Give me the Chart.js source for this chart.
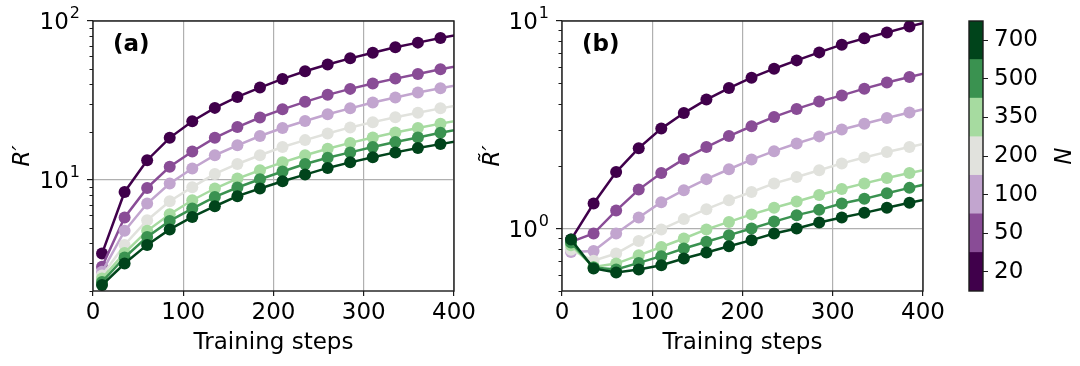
<!DOCTYPE html>
<html>
<head>
<meta charset="utf-8">
<script src="https://cdn.jsdelivr.net/npm/chart.js@4"></script>
<style>
  body { margin: 0; background: #fff; }
  #wrap { position: relative; width: 1080px; height: 366px; }
  canvas { position: absolute; left: 0; top: 0; }
</style>
</head>
<body>
<div id="wrap">
  <canvas id="chartA" width="1080" height="366"></canvas>
  <canvas id="chartB" width="1080" height="366"></canvas>
  <canvas id="cbar" width="1080" height="366"></canvas>
</div>
<script>
// training steps (last one sits just outside the axis, line runs to the edge)
const steps = [10, 35, 60, 85, 110, 135, 160, 185, 210, 235, 260, 285, 310, 335, 360, 385, 410];
const nLabels = ['20', '50', '100', '200', '350', '500', '700'];
const colors = ['#40004b', '#894c96', '#c2a5cf', '#e1e2dd', '#a6dba0', '#3a9250', '#00441b'];

// panel (a): R'
const a20  = [3.44, 8.4, 13.3, 18.4, 23.4, 28.4, 33.3, 38.1, 43.2, 48.3, 53.2, 58.2, 63.2, 68.4, 73.1, 78.2, 83.2];
const a50  = [2.84, 5.8, 8.9, 12.1, 15.1, 18.4, 21.5, 24.7, 27.8, 31.0, 34.3, 37.4, 40.4, 43.4, 46.4, 49.7, 52.8];
const a100 = [2.64, 4.78, 7.1, 9.5, 11.8, 14.3, 16.5, 18.9, 21.2, 23.5, 25.9, 28.2, 30.7, 33.0, 35.5, 37.7, 40.1];
const a200 = [2.5, 3.9, 5.58, 7.35, 9.0, 10.9, 12.6, 14.3, 16.1, 17.8, 19.6, 21.4, 23.1, 24.8, 26.5, 28.2, 29.9];
const a350 = [2.4, 3.47, 4.78, 6.08, 7.45, 8.83, 10.2, 11.5, 12.9, 14.3, 15.7, 17.1, 18.5, 19.9, 21.2, 22.6, 24.0];
const a500 = [2.28, 3.25, 4.38, 5.52, 6.6, 7.82, 8.96, 10.1, 11.3, 12.6, 13.8, 14.9, 16.1, 17.3, 18.5, 19.8, 21.0];
const a700 = [2.18, 2.98, 3.9, 4.88, 5.85, 6.83, 7.9, 8.83, 9.8, 10.8, 11.9, 12.9, 13.9, 14.9, 15.9, 16.8, 17.8];

// panel (b): R~'
const b20  = [0.885, 1.32, 1.87, 2.44, 3.03, 3.6, 4.18, 4.75, 5.33, 5.89, 6.46, 7.06, 7.69, 8.25, 8.81, 9.42, 10.0];
const b50  = [0.862, 0.946, 1.22, 1.54, 1.85, 2.16, 2.47, 2.79, 3.11, 3.45, 3.77, 4.09, 4.38, 4.72, 5.05, 5.37, 5.7];
const b100 = [0.77, 0.78, 0.946, 1.13, 1.34, 1.53, 1.73, 1.93, 2.15, 2.36, 2.57, 2.78, 3.0, 3.2, 3.41, 3.62, 3.84];
const b200 = [0.79, 0.70, 0.758, 0.871, 0.99, 1.11, 1.24, 1.37, 1.50, 1.65, 1.77, 1.91, 2.06, 2.2, 2.34, 2.47, 2.61];
const b350 = [0.83, 0.653, 0.678, 0.743, 0.815, 0.895, 0.99, 1.076, 1.17, 1.26, 1.35, 1.45, 1.55, 1.65, 1.75, 1.85, 1.95];
const b500 = [0.857, 0.649, 0.635, 0.683, 0.736, 0.801, 0.863, 0.929, 1.0, 1.08, 1.16, 1.23, 1.32, 1.39, 1.48, 1.57, 1.66];
const b700 = [0.885, 0.642, 0.614, 0.635, 0.666, 0.717, 0.766, 0.822, 0.879, 0.946, 1.0, 1.07, 1.13, 1.19, 1.26, 1.33, 1.4];

const seriesA = [a20, a50, a100, a200, a350, a500, a700];
const seriesB = [b20, b50, b100, b200, b350, b500, b700];

const xTicks = [0, 100, 200, 300, 400];
const yTicksA = [2, 3, 4, 5, 6, 7, 8, 9, 10, 20, 30, 40, 50, 60, 70, 80, 90, 100];
const yTicksB = [0.5, 0.6, 0.7, 0.8, 0.9, 1, 2, 3, 4, 5, 6, 7, 8, 9, 10];

const FONT = "'DejaVu Sans', sans-serif";
Chart.defaults.font.family = FONT;
Chart.defaults.font.size = 23;
Chart.defaults.color = '#000';

function isDecade(v) {
    const l = Math.log10(v);
    return Math.abs(l - Math.round(l)) < 1e-9;
}

// box round the plot area
const framePlugin = {
    id: 'frame',
    afterDatasetsDraw(chart) {
        const a = chart.chartArea;
        const ctx = chart.ctx;
        ctx.save();
        ctx.strokeStyle = '#1a1a1a';
        ctx.lineWidth = 1.4;
        ctx.strokeRect(a.left, a.top, a.right - a.left, a.bottom - a.top);
        ctx.restore();
    }
};

// short minor ticks and 10^n labels on the log axis
const logAxisPlugin = {
    id: 'logAxis',
    afterDraw(chart) {
        const y = chart.scales.y;
        if (!y || y.type !== 'logarithmic') return;
        const ctx = chart.ctx;
        const left = chart.chartArea.left;
        ctx.save();
        ctx.strokeStyle = '#1a1a1a';
        ctx.fillStyle = '#000';
        ctx.lineWidth = 1;
        y.ticks.forEach(t => {
            const py = y.getPixelForValue(t.value);
            if (!isDecade(t.value)) {
                const p = Math.round(py) + 0.5;
                ctx.beginPath();
                ctx.moveTo(left, p);
                ctx.lineTo(left - 3.5, p);
                ctx.stroke();
                return;
            }
            const exp = String(Math.round(Math.log10(t.value)));
            ctx.textAlign = 'right';
            ctx.textBaseline = 'middle';
            ctx.font = '16px ' + FONT;
            const expW = ctx.measureText(exp).width;
            ctx.fillText(exp, left - 13, py - 7);
            ctx.font = '23px ' + FONT;
            ctx.fillText('10', left - 13 - expW - 1, py + 2.5);
        });
        ctx.restore();
    }
};

const panelLabelPlugin = {
    id: 'panelLabel',
    afterDatasetsDraw(chart, args, opts) {
        if (!opts.text) return;
        const ctx = chart.ctx;
        ctx.save();
        ctx.font = 'bold 23px ' + FONT;
        ctx.fillStyle = '#000';
        ctx.textBaseline = 'middle';
        ctx.fillText(opts.text, chart.chartArea.left + 20, chart.chartArea.top + 24);
        ctx.restore();
    }
};

function makePanel(canvasId, series, yMin, yMax, yTicks, yTitle, label, pad, yAxisWidth) {
    const datasets = series.map((vals, i) => ({
        label: 'N = ' + nLabels[i],
        data: steps.map((s, j) => ({ x: s, y: vals[j] })),
        borderColor: colors[i],
        backgroundColor: colors[i],
        borderWidth: 2.5,
        pointRadius: 6,
        pointHoverRadius: 6,
        pointBorderWidth: 0,
        order: series.length - 1 - i
    }));

    return new Chart(document.getElementById(canvasId), {
        type: 'line',
        data: { datasets: datasets },
        options: {
            responsive: false,
            animation: false,
            events: [],
            layout: { padding: pad },
            plugins: {
                legend: { display: false },
                tooltip: { enabled: false },
                panelLabel: { text: label }
            },
            scales: {
                x: {
                    type: 'linear',
                    min: 0,
                    max: 400,
                    afterBuildTicks: s => { s.ticks = xTicks.map(v => ({ value: v })); },
                    afterFit: s => { s.height = 70; },
                    ticks: { padding: 3, maxRotation: 0 },
                    grid: { color: '#b0b0b0', lineWidth: 1.2, tickColor: '#1a1a1a', tickLength: 5 },
                    border: { display: false },
                    title: { display: true, text: 'Training steps', padding: { top: 2, bottom: 4 } }
                },
                y: {
                    type: 'logarithmic',
                    min: yMin,
                    max: yMax,
                    afterBuildTicks: s => { s.ticks = yTicks.map(v => ({ value: v })); },
                    afterFit: s => { s.width = yAxisWidth; },
                    ticks: { padding: 6, autoSkip: false, callback: () => '' },
                    grid: {
                        color: c => isDecade(c.tick.value) ? '#b0b0b0' : 'rgba(0,0,0,0)',
                        tickColor: c => isDecade(c.tick.value) ? '#1a1a1a' : 'rgba(0,0,0,0)',
                        lineWidth: 1.2,
                        tickLength: 6
                    },
                    border: { display: false },
                    title: { display: true, text: yTitle, font: { style: 'italic' }, padding: { top: 3, bottom: 4 } }
                }
            }
        },
        plugins: [framePlugin, logAxisPlugin, panelLabelPlugin]
    });
}

makePanel('chartA', seriesA, 2, 100, yTicksA, 'R\u2032', '(a)',
    { left: 6, top: 21, right: 1080 - 454, bottom: 5 }, 87);
makePanel('chartB', seriesB, 0.5, 10, yTicksB, 'R\u0303\u2032', '(b)',
    { left: 476, top: 21, right: 1080 - 923, bottom: 5 }, 86);

// colour bar: one stacked column, one block per N
new Chart(document.getElementById('cbar'), {
    type: 'bar',
    data: {
        labels: ['N'],
        datasets: nLabels.map((n, i) => ({
            label: n,
            data: [1],
            backgroundColor: colors[i],
            borderWidth: 0,
            barPercentage: 1,
            categoryPercentage: 1
        }))
    },
    options: {
        responsive: false,
        animation: false,
        events: [],
        layout: { padding: { left: 969, top: 21, right: 2, bottom: 75 } },
        plugins: { legend: { display: false }, tooltip: { enabled: false } },
        scales: {
            x: { display: false, stacked: true },
            y: {
                stacked: true,
                position: 'right',
                min: 0,
                max: 7,
                afterBuildTicks: s => { s.ticks = nLabels.map((n, i) => ({ value: i + 0.5 })); },
                afterFit: s => { s.width = 95; },
                ticks: { padding: 6, autoSkip: false, callback: (v, i) => nLabels[i] },
                grid: { drawOnChartArea: false, tickColor: '#1a1a1a', tickLength: 5 },
                border: { display: false },
                title: { display: true, text: 'N', font: { style: 'italic' }, padding: { top: 4, bottom: 4 } }
            }
        }
    },
    plugins: [framePlugin]
});
</script>
</body>
</html>
